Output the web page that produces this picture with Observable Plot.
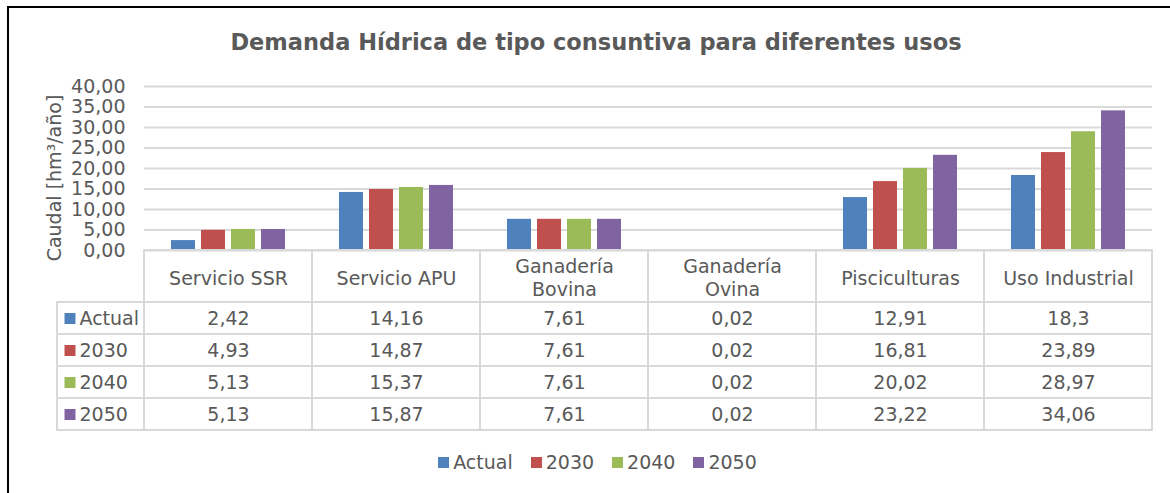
<!DOCTYPE html>
<html>
<head>
<meta charset="utf-8">
<script src="https://cdn.jsdelivr.net/npm/d3@7"></script>
<script src="https://cdn.jsdelivr.net/npm/@observablehq/plot@0.6"></script>
<style>
  html, body { margin: 0; padding: 0; background: #fff; }
  #wrap { position: relative; width: 1170px; height: 493px; overflow: hidden; font-family: "DejaVu Sans", Verdana, sans-serif; color: #595959; }
  #border { position: absolute; left: 7px; top: 6px; width: 1200px; height: 600px; border-left: 2px solid #000; border-top: 2px solid #000; box-sizing: border-box; }
  #title { position: absolute; left: 0; width: 1192px; top: 29px; text-align: center; font-weight: bold; font-size: 22.5px; line-height: 26px; }
  #ylabel { position: absolute; left: 54px; top: 178px; transform: translate(-50%, -50%) rotate(-90deg); white-space: nowrap; font-size: 19px; line-height: 20px; }
  #bars, #table { position: absolute; left: 0; }
  #bars { top: 0; }
  #table { top: 250px; }
  #legend { position: absolute; left: 0; width: 1195px; top: 451px; display: flex; justify-content: center; font-size: 19px; line-height: 22px; }
  #legend .item { display: flex; align-items: center; margin: 0 9px; }
  #legend .sw { width: 11px; height: 11px; margin-right: 4px; }
</style>
</head>
<body>
<div id="wrap">
  <div id="border"></div>
  <div id="title"></div>
  <div id="ylabel"></div>
  <div id="bars"></div>
  <div id="table"></div>
  <div id="legend"></div>
</div>
<script>
const titleText = "Demanda Hídrica de tipo consuntiva para diferentes usos";
const yLabel = "Caudal [hm³/año]";
const categories = ["Servicio SSR", "Servicio APU", "Ganadería Bovina", "Ganadería Ovina", "Pisciculturas", "Uso Industrial"];
const headerLabels = ["Servicio SSR", "Servicio APU", "Ganadería\nBovina", "Ganadería\nOvina", "Pisciculturas", "Uso Industrial"];
const series = ["Actual", "2030", "2040", "2050"];
const colors = ["#4f81bd", "#c0504d", "#9bbb59", "#8064a2"];
const valuesActual = [2.42, 14.16, 7.61, 0.02, 12.91, 18.3];
const values2030 = [4.93, 14.87, 7.61, 0.02, 16.81, 23.89];
const values2040 = [5.13, 15.37, 7.61, 0.02, 20.02, 28.97];
const values2050 = [5.13, 15.87, 7.61, 0.02, 23.22, 34.06];
const yTicks = [0, 5, 10, 15, 20, 25, 30, 35, 40];

const seriesValues = [valuesActual, values2030, values2040, values2050];
const rows = [];
series.forEach((s, i) => categories.forEach((c, j) => rows.push({cat: c, series: s, value: seriesValues[i][j]})));

const gridColor = "#d9d9d9";
const textColor = "#595959";
const fs = 19;
const fmtAxis = d => d.toFixed(2).replace(".", ",");
const fmtCell = d => String(d).replace(".", ",");
const baseStyle = {fontFamily: "'DejaVu Sans', Verdana, sans-serif", fontSize: fs + "px", color: textColor, background: "transparent", overflow: "visible"};

document.getElementById("title").textContent = titleText;
document.getElementById("ylabel").textContent = yLabel;

const bars = Plot.plot({
  width: 1170, height: 252,
  marginTop: 86, marginBottom: 2, marginLeft: 144, marginRight: 18,
  style: baseStyle,
  fx: {domain: categories, padding: 0, axis: null},
  x: {domain: series, paddingInner: 0.21, paddingOuter: 0.87, axis: null},
  y: {domain: [0, 40], axis: null},
  color: {domain: series, range: colors},
  marks: [
    Plot.gridY(yTicks, {stroke: gridColor, strokeOpacity: 1, strokeWidth: 2}),
    Plot.axisY(yTicks, {tickSize: 0, tickPadding: 19, tickFormat: fmtAxis, label: null, fontSize: fs, fill: textColor}),
    Plot.barY(rows, {fx: "cat", x: "series", y: "value", fill: "series"})
  ]
});
document.getElementById("bars").appendChild(bars);

const table = Plot.plot({
  width: 1170, height: 182,
  marginTop: 52, marginBottom: 2, marginLeft: 144, marginRight: 18,
  style: baseStyle,
  x: {domain: categories, padding: 0, axis: null},
  y: {domain: series, padding: 0, axis: null},
  color: {domain: series, range: colors},
  marks: [
    Plot.cell(series, {y: d => d, fill: "none", stroke: gridColor, strokeWidth: 2, insetLeft: -87}),
    Plot.cell(categories, {x: d => d, fill: "none", stroke: gridColor, strokeWidth: 2, insetTop: -52}),
    Plot.text(categories, {x: d => d, text: (d, i) => headerLabels[i], frameAnchor: "top", dy: -25, lineAnchor: "middle", lineHeight: 1.2, fill: textColor, fontSize: fs}),
    Plot.text(rows, {x: "cat", y: "series", text: d => fmtCell(d.value), fill: textColor, fontSize: fs}),
    Plot.dot(series, {y: d => d, frameAnchor: "left", dx: -74.5, symbol: "square", r: 6.2, fill: d => d, stroke: null}),
    Plot.text(series, {y: d => d, frameAnchor: "left", dx: -65, textAnchor: "start", text: d => d, fill: textColor, fontSize: fs})
  ]
});
document.getElementById("table").appendChild(table);

const legend = document.getElementById("legend");
series.forEach((s, i) => {
  const item = document.createElement("div");
  item.className = "item";
  const sw = document.createElement("span");
  sw.className = "sw";
  sw.style.background = colors[i];
  const lab = document.createElement("span");
  lab.textContent = s;
  item.appendChild(sw);
  item.appendChild(lab);
  legend.appendChild(item);
});
</script>
</body>
</html>
